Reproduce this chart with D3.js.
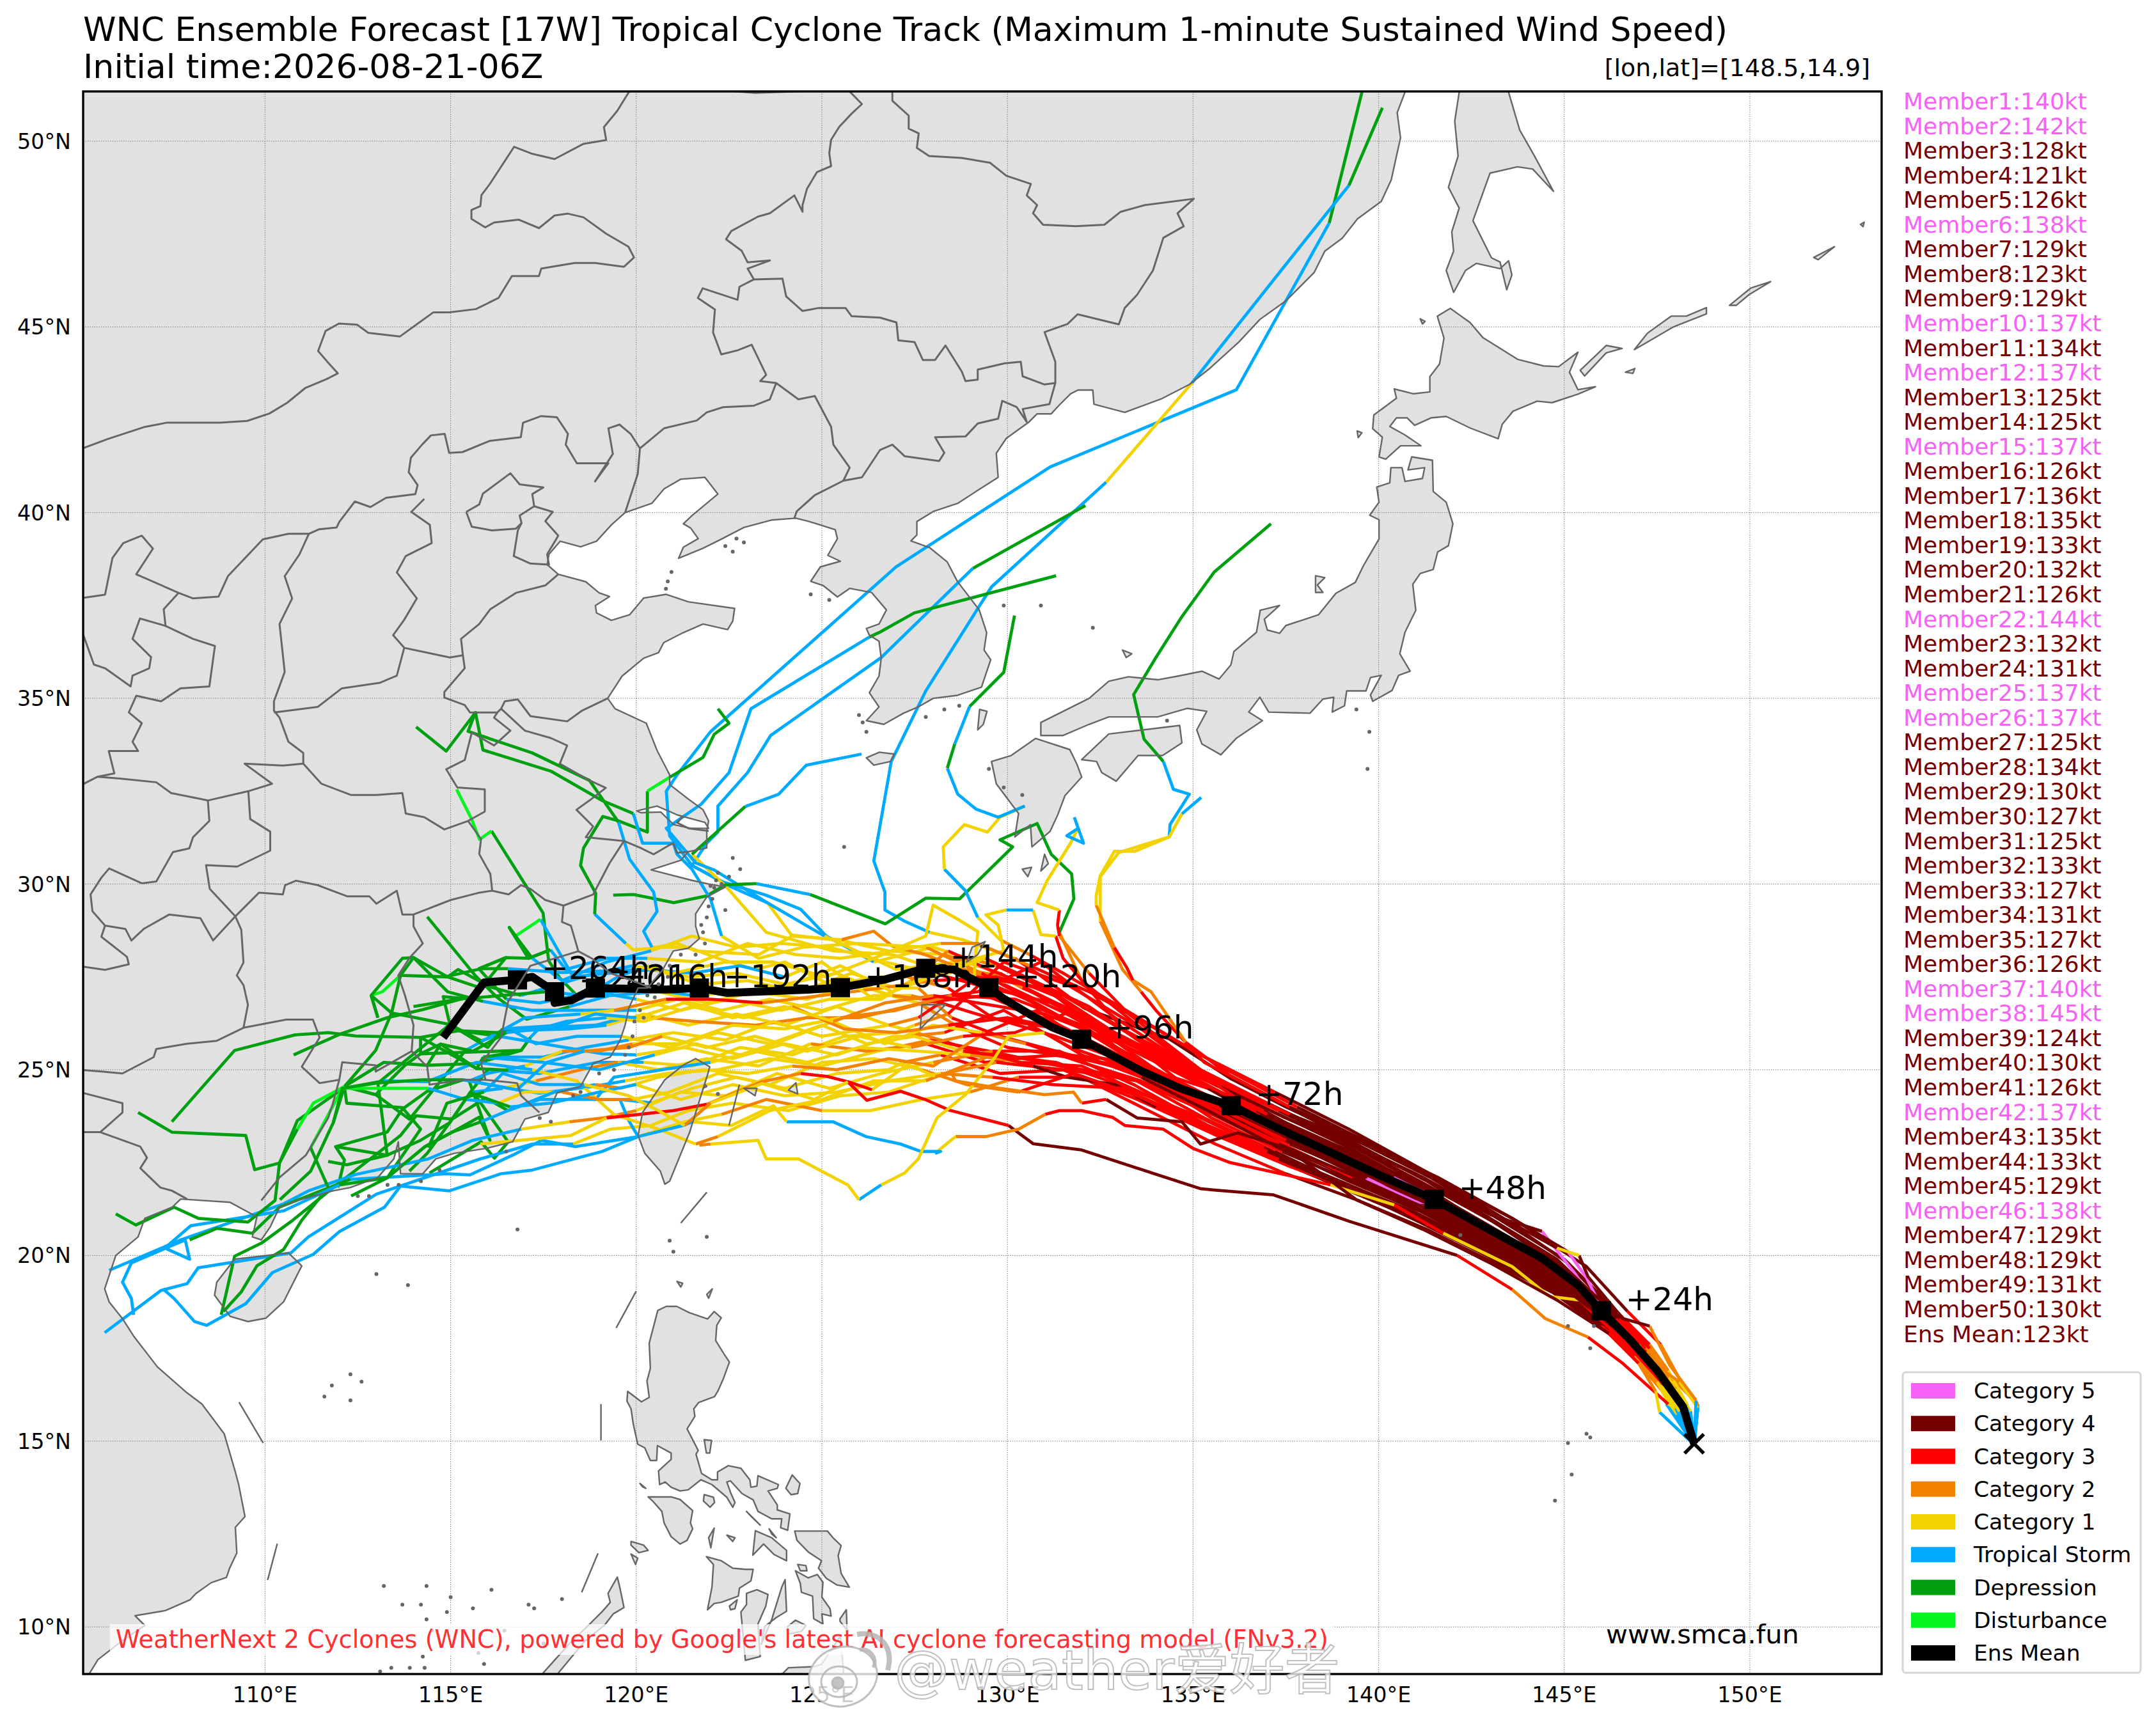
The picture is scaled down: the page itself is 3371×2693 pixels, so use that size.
<!DOCTYPE html>
<html>
<head>
<meta charset="utf-8">
<title>WNC Ensemble Forecast 17W</title>
<script src="https://cdn.jsdelivr.net/npm/d3@7"></script>
<style>
html, body { margin: 0; padding: 0; background: #fff; }
text { font-family: "DejaVu Sans", sans-serif; }
</style>
</head>
<body>
<svg id="chart" width="3371" height="2693"></svg>
<script>
// category order is the legend order
var catNames = ["Category 5", "Category 4", "Category 3", "Category 2", "Category 1", "Tropical Storm", "Depression", "Disturbance", "Ens Mean"];
var catColors = ["#f661f6", "#750000", "#ff0000", "#f28200", "#f2d200", "#00abff", "#00a010", "#05f51f", "#000000"];
var C5 = 0, C4 = 1, C3 = 2, C2 = 3, C1 = 4, TS = 5, TD = 6, DB = 7;

var memberWinds = [140, 142, 128, 121, 126, 138, 129, 123, 129, 137, 134, 137, 125, 125, 137, 126, 136, 135, 133, 132, 126, 144, 132, 131, 137, 137, 125, 134, 130, 127, 125, 133, 127, 131, 127, 126, 140, 145, 124, 130, 126, 137, 135, 133, 129, 138, 129, 129, 131, 130];
var meanWind = 123;
var latTicks = [10, 15, 20, 25, 30, 35, 40, 45, 50];
var lonTicks = [110, 115, 120, 125, 130, 135, 140, 145, 150];

// ensemble mean, lon/lat
var meanTrack = [[148.5, 14.93], [148.2, 15.93], [147.5, 16.9], [146.8, 17.7], [146, 18.51], [145.37, 19.2], [144.4, 19.93], [142.85, 20.77], [141.5, 21.51], [140, 22.17], [138.56, 22.84], [137.25, 23.44], [136.03, 24.03], [134.7, 24.48], [133.6, 24.97], [132, 25.82], [131.19, 26.15], [130.5, 26.55], [129.87, 26.93], [129.5, 27.21], [128.55, 27.7], [127.8, 27.73], [126.7, 27.43], [125.5, 27.21], [124.7, 27.16], [122.45, 27.07], [121.7, 27.2], [120.8, 27.16], [118.9, 27.2], [118.25, 26.87], [117.8, 26.8], [117.8, 27.1], [117.2, 27.5], [116.8, 27.42], [115.9, 27.35], [114.8, 25.87]];
var meanLabels = ["+24h", "+48h", "+72h", "+96h", "+120h", "+144h", "+168h", "+192h", "+216h", "+240h", "+264h"];
var meanMarkers = [[146, 18.51], [141.5, 21.51], [136.03, 24.03], [132, 25.82], [129.5, 27.21], [127.8, 27.73], [125.5, 27.21], [121.7, 27.2], [118.9, 27.2], [117.8, 27.1], [116.8, 27.42]];

// each track is a list of runs: [category, lon, lat, lon, lat, ...]; a run carries on from the end of the one before
var memberTracks = [
[[TS,148.5,14.9,148.1,16],[C1,147.6,16.9],[C2,147,17.6],[C3,146.2,18.3],[C4,144.7,19.8,142.8,20.9,141.2,21.8,139.5,22.7,137.8,23.4],[C3,136,24.4,134.3,25.2,132.8,25.9,131,26.9,129.8,27.6],[C2,128.3,28.1],[C1,126.8,28.2,125.57,28.47,124.18,28.63,123.54,29.49],[TS,122.5,29.95,121.5,30.5,120.9,31.3,120.81,32.5,121.1,32.94,122,34.1,127,38.54,131.15,41.23,136.17,43.31,138.67,47.8],[TD,139.55,51.32]],
[[TS,148.5,14.9,148.6,16],[C2,148,16.6,147.2,17.5],[C3,146.4,18.4],[C4,145,19.9,143.2,21,141.4,22.1,139.4,23.1,137.5,24,136,24.77,134.36,25.83,132.06,26.66],[C3,130.8,27.6,130.2,28],[C1,128.8,28.5,127.9,28.7],[TS,127.23,29,126.7,29.3,126.7,29.78,126.4,30.62,126.87,33.3,127.8,35.2,129.57,38,132.66,40.82],[C1,134.97,43.49],[TS,137.3,46.43,139.2,48.81],[TD,140.1,50.9]],
[[TS,148.5,14.9,148,16],[C1,147.5,16.8],[C2,147,17.4],[C3,146.1,18.3],[C4,144.6,19.7,142.7,20.8,141,21.9,139.2,22.9,137.1,23.9],[C3,135.1,24.9,133,25.9,131.2,27.1,129.7,27.8],[C2,128.6,28.1],[C1,128,28.3,126.4,27.9],[TS,125.12,28.6,124.43,29.32,123.5,29.7,122.35,30.05,121.5,30.5,121.9,31.1,122.2,31.4,122.2,32.1,123,33,123.62,34,126.6,36.1,129.07,38.5],[TD,132.1,40.19]],
[[TS,148.5,14.9,148.2,15.9],[C1,147.7,16.7],[C2,147.1,17.5],[C3,146.3,18.2],[C4,144.9,19.5,143,20.6,141.2,21.7,139.3,22.7,137.4,23.6],[C3,135.5,24.7,133.5,25.7,131.5,26.7,129.9,27.5],[C2,128.9,27.7],[C1,128.4,27.6,126.9,28.1,125.3,28.2,123.5,28.7,122.45,29.9,121.5,30.8],[TD,122.94,32.09],[TS,123.84,32.42,124.58,33.2,126.07,33.5]],
[[TS,148.5,14.9,148.3,15.8],[C1,147.9,16.5],[C2,147.3,17.2],[C3,146.5,18.1],[C4,145.2,19.3,143.3,20.5,141.6,21.5,139.7,22.5,137.6,23.3],[C3,135.7,24.4,133.7,25.5,132,26.5,130.4,27.2],[C2,129.3,27.8],[C1,128.6,27.9,127,27.7,125.07,28.6],[TS,123.49,29.52,122.1,30.38,121.6,30.57,120.81,31.5,121.75,32.15,122.5,33,123.09,34.72,126.28,36.65],[TD,126.54,36.77,127.49,37.3,131.31,38.3]],
[[TS,148.5,14.9,148.2,16],[C1,147.6,16.8],[C2,147,17.5],[C3,146.2,18.5],[C4,144.8,19.9,143,21,141,22.2,138.9,23.2,137,24.1],[C3,135,25.1,133.5,26.2,132,27.4],[C2,131.4,28.7],[TD,131.79,29.6,131.73,30.27,131.18,30.8,130.8,31.63,129.8,31.19,130.14,31,128.71,29.6,127.8,29.62,126.71,28.93,124.68,29.72],[TS,123.24,30.01],[TD,122.4,29.98,121.9,29.68,121.01,29.5,119.92,29.72,119.38,29.7]],
[[TS,148.5,14.9,148.3,16],[C1,147.8,16.9],[C2,147.3,17.6],[C3,146.5,18.4],[C4,145.1,19.8,143.2,21.1,141.2,22.3,139.2,23.4,137.2,24.4],[C3,135.2,25.4,133.2,26.6,131.5,27.6,130.6,28.1],[C2,129.8,28.5],[C1,129.2,29.1],[TS,128.87,29.82,128.3,30.4],[C1,128.27,31,128.84,31.6,129.46,31.4,129.8,31.8,130.47,32.1],[TS,129.75,31.8,129.15,32.02,128.66,32.42,128.38,33.12],[TD,128.58,33.77],[TS,128.98,34.78],[TD,129.9,35.7,130.19,37.23]],
[[TS,148.5,14.9,148.1,15.9],[C1,147.7,16.7],[C2,147.2,17.3],[C3,146.3,18.3],[C4,144.9,19.7,143.1,20.9,141.3,22,139.4,23,137.4,24.1],[C3,135.3,25.2,134,26.6,133.6,27.1],[C2,133.1,27.7,132.5,29],[C1,132.5,30.2,133,30.85,134.36,31.27],[TS,134.38,31.6,134.9,32.42,134.47,32.55,134.2,33.3],[TD,133.68,33.9,133.4,35.1,134,36.1,134.7,37.2,135.57,38.4,137.1,39.7]],
[[TS,148.5,14.9,148.6,15.95],[C2,148.2,16.5,147.6,17.6],[C3,146.7,18.5],[C4,145.6,19.7,143.6,21,141.6,22.1,139.5,23.1,137.6,24],[C3,135.99,24.85,134.8,25.74],[C2,133.87,27.1,133.38,27.41],[C3,133.21,27.76,132.88,28.29],[C2,132.39,29.43],[C1,132.39,29.69,132.5,30.22,132.88,30.88,133.43,30.88,134.36,31.27,134.7,31.89],[TS,135.22,32.33]],
[[TS,148.5,14.9,148.2,15.8],[C1,147.6,16.7],[C3,146.6,17.9],[C4,145.1,19.4,143,20.7,140.9,21.9,138.9,22.8,136.9,23.9],[C3,135.2,25,133.27,26.5,132.2,27.6],[C2,131.4,28.6],[C3,131.35,28.9,131.4,29.3],[C1,130.8,29.5,131.07,30.09,131.7,31.1,131.9,31.5],[TS,131.6,31.3,132.05,31.1,131.8,31.8]],
[[TS,148.5,14.9,148.3,15.9],[C1,147.8,16.7],[C2,147.2,17.4],[C3,146.4,18.1],[C4,145,19.5,143.1,20.6,141.3,21.6,139.4,22.5,137.5,23.5],[C3,135.6,24.4,133.6,25.4,131.6,26.5,129.9,27.3],[C2,127.78,28.1,126.9,28.33,126.4,28.73,125.53,28.5],[C1,124.2,28.6,123.3,28.1,121.6,28.2,121.11,28.4,120.37,28.27,119.92,28.23,119.72,28.4],[TS,118.88,29.19],[TD,118.91,29.75,118.5,30.5,118.58,30.97,119.1,31.82,119.52,31.7,120.3,31.4,120.3,32.5],[DB,120.91,32.88],[TD,121.8,33.41,122.1,34.03,122.5,34.33,122.2,34.72]],
[[TS,148.5,14.9,148.2,16],[C1,147.7,16.8],[C2,147.1,17.5],[C3,146.3,18.4],[C4,144.9,19.6,142.9,20.8,141,21.8,139,22.7,137,23.6,135.4,24.5],[C3,133.2,25.2,131.3,25.9,129.6,26.4,128.4,27.2],[C2,127.3,27.5],[C1,126.6,27.5,125.2,27.3,124,27.9,123.2,27.7,122.2,28,121.4,28.3,120.42,28.3],[TS,120.2,28.73,120.56,29.26,120.47,29.78,119.82,30.67,119.52,31.67],[TD,118.74,32.79,117.2,33.53,115.47,34.11,115.67,34.62,114.88,33.58,114.07,34.23]],
[[TS,148.5,14.9,148.1,15.9],[C1,147.5,16.9],[C2,146.9,17.5],[C3,146.1,18.3],[C4,144.7,19.5,142.9,20.6,141,21.6,139.1,22.5,137.2,23.3],[C3,135.3,24.3,133.3,25.4,131.3,26.5,129.3,27.6],[C2,127.8,28.3],[C1,126,28.4,124.5,28.3,123.3,28,122.3,28.6],[TS,122,29.6,121.5,30.4,121.1,30.8,121,31.1,120.17,31.1,119.92,31.9],[TD,119.08,32.25,117.7,33.04,115.87,33.61,115.67,34.62]],
[[TS,148.5,14.9,147.9,15.9],[C1,147.6,16.6],[C2,147.2,17.3],[C3,146.2,18.4],[C4,144.8,19.4,143,20.4,141.1,21.4,139.2,22.3,137.3,23.2],[C3,135.4,24.1,133.4,25,131.4,26.1,129.5,26.4,128.2,26.8],[C2,127.4,27],[C1,126.8,27,125.4,27.6,124,27.3,122.7,27.6,121.4,27.5,120.3,27.8],[TS,119.5,27.5,118.5,26.9],[TD,117.94,27.47,117.64,27.94,117.49,29.22,116.1,31.43],[DB,115.78,31.2,115.56,31.76,115.16,32.55]],
[[TS,148.5,14.9,148.2,15.9],[C1,147.6,16.7],[C2,147,17.4],[C3,146.3,18.2],[C4,145,19.3,143.2,20.3,141.4,21.3,139.5,22.2,137.6,23],[C3,135.7,23.9,133.7,24.9,131.7,25.4,129.8,25.9,128.5,26.4],[C2,127.6,27.2],[C1,127,27.2,125.8,27.6,124.4,27.1,123,27.4,121.7,27.3,120.5,27.7],[TS,119.3,27.6,118.3,27.5,117.42,29.05],[DB,116.75,28.6],[TD,116.58,28.83,117.1,28,117.69,28.23]],
[[TS,148.5,14.9,148.4,15.8],[C1,147.9,16.6],[C2,147.3,17.3],[C3,146.5,18],[C4,145.3,19.1,143.5,20.2,141.7,21.2,139.8,22.1,137.9,22.9],[C3,136,23.8,134,24.8,132,25.3,130,25.6,128.6,26.2],[C2,127.6,26.8],[C1,127.2,26.9,125.9,27.3,124.6,26.9,123.2,27.1,121.9,26.8,120.6,27.1],[TS,119.3,27,118.2,26.7],[TD,117.05,26.36,116.25,26.95,115.66,27.54,114.37,29.12]],
[[TS,148.5,14.9,148.1,15.7],[C1,147.6,16.6],[C2,147,17.2],[C3,146.2,18],[C4,144.8,19.2,143,20.2,141.2,21.2,139.3,22.1,137.4,23,135.5,24],[C3,133.5,25.6,131.5,26.9,129.5,27.7,128.4,28.2],[C2,127.4,27.4],[C1,126.6,26.9,125.2,26.9,123.9,26.6,122.5,26.9,121.2,26.6,120,26.9],[TS,118.9,27.1,117.4,26.8,116.5,26.9],[TD,115.76,27.72,116.49,28.02,115.82,27.2,114.92,27.5,113.65,27.54],[DB,113.16,27.1,112.86,27],[TD,113.04,26.4]],
[[TS,148.5,14.9,148.3,15.9],[C1,147.7,16.6],[C2,147.1,17.3],[C3,146.3,18.1],[C4,144.9,19.2,143.1,20.4,141.3,21.4,139.4,22.3,137.5,23.2],[C3,135.6,24.2,133.6,25.2,131.6,25.4,129.7,25.3,128.2,25.8],[C2,127.2,26.1],[C1,126.8,26.2,125.4,26.7,124,26.2,122.7,26.5,121.4,26.2,120.2,26.5,119.2,26.2],[TS,118.2,26.1,116.67,26.05,115.82,25.78],[TD,114.98,26.22,114.8,26.97,115.34,26.92,114.25,26.62,113.29,26.4,112.02,25.96,110.77,25.4]],
[[TS,148.5,14.9,148.2,15.7],[C1,147.6,16.5],[C2,147,17.2],[C3,146.1,18.1],[C4,144.7,19.3,142.8,20.5,141,21.5,139,22.4,137.1,23.3],[C3,135.2,24.2,133.2,25.3,131.2,26.3,129.4,27,127.7,26.8],[C2,126,26.4,124.6,26.4,123.2,26.2,121.6,26.3,120.4,26.4],[C1,119.7,26.4],[TS,118.9,26.2,117.4,26.13,117.15,25.87],[TD,116.9,25.52,115.7,25.17,114.37,25.12]],
[[TS,148.5,14.9,148,15.8],[C1,147.5,16.7],[C2,146.9,17.4],[C3,146,18.3],[C4,144.6,19.4,142.7,20.6,140.8,21.6,138.8,22.5,136.9,23.4],[C3,135,24.3,133,25.7,131,27.2,129.2,27.5,127.6,26.4],[C2,126.8,26.2],[C1,126.2,26.1,125,25.9,123.7,26.3,122.4,25.8,121,26,119.8,25.8],[TS,118.6,25.6,117.5,25.34,115.88,25.34],[TD,115.7,25.03,114.73,25.69,114.19,25.43,114.19,25.87,112.44,25.91,111.71,26,110.81,25.94,109.18,25.52,107.49,23.6]],
[[TS,148.5,14.9,148.3,15.7],[C1,147.8,16.4],[C2,147.2,17.1],[C3,146.4,17.9],[C4,145,19,143.2,20.1,141.4,21.1,139.5,22],[C3,137.6,22.9,135.7,23.8,133.7,24.9,131.7,25.6,129.9,26.6,128.3,26],[C2,127.3,25.9],[C1,126.9,25.9,125.4,25.4,124,25.7,122.6,25.3,121.3,25.6,120,25.4],[TS,119.08,25.43,117.5,25.7,116.3,25.9],[TD,115.22,26.05,114.98,26.22,113.04,24.64,113.29,22.7,112.2,22.44,111.7,22.53]],
[[TS,148.5,14.9,148.1,15.8],[C1,147.6,16.6],[C2,147,17.3],[C3,146.2,18.1],[C5,145.3,19.5,144.4,20.65],[C4,143,21.1,141.2,22.1,139.4,22.9,137.5,23.7,135.6,24.6],[C3,133.6,26.1,131.6,27.3,129.9,27.9,128.4,26.5],[C2,127.5,26.2],[C1,127,26,125.6,25.9,124.2,25.4,122.8,25.6,121.5,25.1,120.2,25.2],[TS,118.96,25.2,117.39,24.9,116,25],[TD,115.52,24.38,114.98,23.58,114.37,22.75,113.89,22.27]],
[[TS,148.5,14.9,148.2,15.7],[C1,147.7,16.5],[C2,147.1,17.2],[C3,146.2,18],[C4,144.7,19.1,142.8,20.1,141,21,139.1,21.9,137.2,22.8],[C3,135.3,23.7,133.3,24.8,131.4,25.1,129.5,25.5,127.9,25.8],[C2,127,25.6],[C1,126.5,25.5,125,25.1,123.6,25.3,122.2,25,120.8,24.9,119.7,24.7],[TS,118.84,24.55,117.39,24.37,116.79,24.46,115.34,24.73],[TD,114.37,24.42,113.7,23.94,113.29,23.32,111.9,22.93,112.14,22.57,111.96,21.83]],
[[TS,148.5,14.9,148.4,15.7],[C1,147.9,16.4],[C2,147.3,17.1],[C3,146.4,18],[C4,145,19.2,143.1,20.2,141.2,21.3,139.3,22.1,137.4,22.9],[C3,135.5,23.8,133.5,24.7,131.6,25,129.8,24.9,128.2,25.4],[C2,127.2,25.2],[C1,126.8,25,125.4,24.9,124,24.5,122.7,24.8,121.5,24.5,120.41,24.11],[TS,119.56,24.2,117.39,24.2,116.55,23.9],[TD,115.94,24.24,115.04,23.67,114.07,23.76,113.65,23.23,111.84,21.83,110.75,20.95,109.9,20.33,109.18,19.98,108.82,18.4]],
[[TS,148.5,14.9,148.1,15.9],[C1,147.5,16.7],[C2,146.9,17.5],[C3,146,18.4],[C4,144.6,19.6,142.6,20.9,140.7,21.9,138.7,22.9,136.8,23.8],[C3,134.9,25.1,132.9,26.4,130.9,27.9,129.2,27.1,127.7,26.9],[C2,126.9,27],[C1,126.4,27,125,26.6,123.6,26.9,122.3,26.6,121.1,26.9,120,26.6],[TS,118.8,26.6,117.2,26.6,115.88,26.84],[TD,114.92,27.1,114,28.02,113.65,27.54,113.41,26.53,112.98,25.52,112.14,24.55,111.84,23.58,111.23,22.27,110.4,21.5]],
[[TS,148.5,14.9,148.2,16],[C1,147.7,16.9],[C2,147.2,17.6],[C3,146.4,18.3],[C4,145,19.7,143.1,20.9,141.1,22,139.2,23,137.3,23.9],[C3,135.4,24.8,133.4,25.9,131.5,27,129.7,27.5,128,27.4],[C2,126.6,27.2,125,27,123.4,26.8],[C3,122,26.9,120.8,26.9],[C2,119.4,26.6],[C1,118.5,26.5],[TS,117,26.4,115.4,25.52],[TD,113.89,23.67,112.98,24.33,112.14,24.55,112.2,24.1,113.7,23.98,114.19,23.4,113.29,22.09]],
[[TS,148.5,14.9,148.3,15.8],[C1,147.8,16.7],[C2,147.2,17.4],[C3,146.4,18.2],[C4,145,19.3,143.2,20.5,141.4,21.4],[C5,141,21.45,139.65,22.06],[C4,137.7,23,135.8,23.9],[C3,133.9,25,132,26.2,130.2,26.9,128.5,27],[C2,127,26.6,125.5,26.4],[C1,124,26.1,122.6,26.2,121.2,25.7,119.9,25.7],[C2,119,25.5,118,25.5],[C1,117,25.1],[TS,116,24.9,115.5,24.7],[TD,116.06,23.1,115.76,23.72,115.04,23.32,114.31,22.93,113.29,22.09,112.32,21.6]],
[[TS,148.5,14.9,148,15.8],[C1,147.4,16.7],[C2,146.9,17.3],[C3,146.1,18.1],[C4,144.8,19.3,142.9,20.4,141,21.4,139,22.2,137.1,23.1],[C3,135.2,24,133.2,25.1,131.2,25.4,129.4,25.2,127.8,25.7],[C2,126.2,25.5,124.7,25.7],[C1,123.3,25.1,121.9,25.3,120.6,25,119.5,25.2],[C2,118.5,25,117.3,24.7],[C1,116.4,24.5],[TS,115.6,24.4],[TD,116.55,23.06,116.18,22.62,115.82,23.06,114.43,22.22]],
[[TS,148.5,14.9,148.3,15.8],[C1,147.7,16.5],[C2,147.1,17.2],[C3,146.2,18],[C4,144.8,19,142.9,20,141.1,21.1,139.2,21.9,137.3,22.7],[C3,135.4,23.5,133.4,24.6,131.4,25.5,129.6,25.5],[C2,128,25.2],[C1,126.6,24.9,125.2,24.5,123.8,24.9,122.4,24.3,121.2,24.4,120,23.9],[C2,119.1,23.7,118.2,23.6],[C1,116.9,23.4],[TS,115.6,23.1,114.4,22.6,112.44,22.18,111.17,21.74,110.5,21.39,107.73,20.42,105.8,19.6]],
[[TS,148.5,14.9,148.1,15.7],[C1,147.6,16.6],[C2,147,17.2],[C3,146.3,18],[C4,145,19,143.1,19.9,141.2,20.9,139.3,21.7,137.4,22.5],[C3,135.5,23.3,133.5,24.2,131.5,25,129.7,25.2],[C2,128.3,24.9],[C1,126.8,24.4,125.5,24.3,124.1,23.9,122.6,24.1,121.4,23.9,120.4,23.5],[C1,119.3,23.4,118.3,23],[TS,117.2,23,115.8,22.6,113,21.65,111.17,20.5,110.7,20.07,108.2,19.67,107.9,19.24,107.2,19.06,105.68,17.92]],
[[TS,148.5,14.9,148.2,15.7],[C1,147.7,16.4],[C2,147.1,17.1],[C3,146.2,17.9],[C4,144.9,18.9,143.1,19.8,141.3,20.7,139.4,21.5,137.5,22.2],[C3,135.6,23,133.6,24,132,24.8,130.3,24.8],[C2,129,24.4],[C1,127.7,24.2,126.3,23.9,125,23.9],[C2,123.5,24.2,122.3,23.8],[C1,121.3,23.6,120.05,23.2],[TS,118.36,22.93,117.45,23.1,116.67,22.7,115.52,22.17,114.9,22.2,112.3,22.05],[TD,110.39,21.3,109.66,20.6,108.7,20.73,107.97,20.42]],
[[TS,148.5,14.9,148.3,15.8],[C1,147.8,16.4],[C2,147.3,17],[C3,146.5,17.8],[C4,145.2,18.9,143.3,19.9,141.5,20.8,139.6,21.6,137.7,22.4],[C3,135.8,23.2,133.8,24.3,132,25.1,130.4,25.2],[C2,129,25.4],[C1,127.6,25.5,126,25.6,124.6,25.2,123.2,25.5,122,25.2],[TS,120.7,25,119.4,24.8,118.9,24.2,119.56,24.2,119.8,23.63,120.05,23.2]],
[[TS,148.5,14.9,148.2,15.9],[C1,147.7,16.7],[C2,147.2,17.4],[C3,146.3,18.2],[C4,144.9,19.6,142.9,20.8,141,22,139,23.1,137,24.1],[C3,135.1,25,133.1,26.1,131.5,28,131.3,28.6],[C1,130.9,28.64,130.69,29.3],[TS,129.97,29.3],[C1,129.42,29.17,129.75,28.9,129.9,28.2,128.8,27.9,127.6,27.4,126.4,26.9,125,27.9,124,27.5],[TS,122.8,27.8,121.5,27.6,120.2,27.7,118,27.62,116.55,27.72],[TD,115.82,27.72,114.85,27.5]],
[[TS,148.5,14.9,148.1,15.8],[C1,147.6,16.5],[C2,147,17.2],[C3,146.1,18],[C4,144.6,19.1,142.7,20.2,140.8,21.2,138.8,22,136.9,22.9],[C3,135,23.8,133,24.6,131.3,25.2,129.6,25.4],[C2,127.8,24.7],[C1,126.4,24.7,125,24.2,123.6,23.9,122.2,23.2],[C2,121.6,23],[C1,120.6,23.4,119.4,23.8,118.4,24.7,117.2,25],[TS,115.7,25.2,114.37,24.68,113.2,24.7],[TD,112.1,24.5,110.87,23.63,110.39,22.49,109.72,22.31,109.48,23.23,107.49,23.32,106.58,23.85]],
[[TS,148.5,14.9,148.4,15.8],[C1,148,16.4],[C2,147.4,17],[C3,146.5,17.9],[C4,145.2,19,143.3,19.9,141.4,20.9,139.5,21.7],[C3,137.6,22.4,135.7,23.2,134,24],[C4,132.9,24.6,131.6,24.8,130.69,25.1],[C3,129.6,25.4,128.8,25.5],[C1,127.5,25.9,126.2,25.7,125,26.2,123.6,25.7,122.2,26,120.9,25.6,119.6,25.9],[TS,118.4,25.9,117.3,25.7,116.67,26.05],[TD,116.3,26,115.22,26.05,114.19,25.87,115.7,25.03,116.55,24.99]],
[[TS,148.5,14.9,148.2,15.9],[C1,147.7,16.5],[C2,147.1,17.2],[C3,146.3,18],[C4,144.8,19.1,143,20.2,141.2,21.3],[C5,140.4,21.7,139.7,22.1],[C4,137.6,23.1,135.7,24],[C3,133.8,25,132,26.1,130.5,26.9,129.1,27.5],[C1,129.2,28.72,128.7,29.03,128,29.43,127.8,28.6,126.4,28,125.1,27.5,123.7,27.9,122.4,27.9,121,27.6,119.9,27.8],[TS,118.9,27.6,117.9,27.3,116.9,27],[TD,116.06,27.23,115.2,27.7,114.92,27.5,114,28.02,113.7,28,112.86,27]],
[[TS,148.5,14.9,148.6,15.9],[C1,148.1,16.6],[C2,147.1,17.3],[C3,146.2,18.2],[C5,145.6,19.4,145.1,20.1],[C4,143.6,21,141.7,22,139.8,23,137.8,24],[C3,135.9,25,134,26.1,132.2,27.1,130.6,27.8],[C2,129.2,28.4,128.2,28.4],[C1,126.9,28.2,125.5,28,124.3,28.1,123,28.4,121.7,27.9,120.3,28],[TS,119.2,28,118.1,27.7,117.69,28.23],[TD,117.1,28,116.49,28.02,115.76,27.72]],
[[TS,148.5,14.9,148.3,15.9],[C1,147.8,16.6],[C2,147.2,17.3],[C3,146.4,18.1],[C4,145,19.3,143.1,20.3,141.2,21.2,139.3,22.1],[C3,137.4,23,135.5,23.9,133.6,24.7,132,25.2,130.5,25.7],[C2,129.3,26],[C1,128,26.2,126.7,25.7,125.3,26.3,124,25.8,122.8,25.4,121.6,25.7,120.5,25.4],[TS,119,25,117.5,25.2,115.88,25.34],[TD,116.49,25.43,116.9,25.52,114.19,25.43,113.77,25.12,112.98,24.33,112.14,24.55]],
[[TS,148.5,14.9,148.2,15.7],[C1,147.6,16.4],[C2,147,17.1],[C3,146.1,18],[C4,144.7,19,142.9,20,141.1,20.9,139.2,21.8,137.3,22.6],[C3,135.4,23.4,133.5,24.3,131.8,24.9,130.3,24.4],[C2,128.9,24.6,127.7,25],[C1,126.4,25.3,125,25.2,123.6,24.6,122.2,24.9,120.9,24.4,119.9,24.2],[C2,119,24.2,118,24.4],[C1,117,24.4,116.3,24.1],[TS,115.4,24.2,114.4,24.5],[DB,112.08,24.5,111.23,22.9],[TD,111.7,21.83,110.99,20.95,110.5,20.16,109.78,19.72,109.36,19.02,108.88,18.49]],
[[TS,148.5,14.9,148.3,15.8],[C1,147.9,16.5],[C2,147.3,17.2],[C3,146.5,17.9],[C4,145.1,19,143.2,20,141.2,21.2,139.3,22,137.4,22.8],[C3,135.5,23.7,133.5,25,132,25.8,130.8,26.6,129.4,26],[C2,128,25.1,126.8,25.3,125.4,25,124.2,25.1],[C1,123,24.9,121.8,25,120.6,24.8,119.6,24.5],[C2,118.9,24.6],[TS,117.8,24.4,116.55,23.9,115.82,23.6],[TD,115.04,23.32,114.31,22.93,113.29,22.09,112,21.9],[TS,110.5,21.2,108,20.8,107.3,20.2,107.97,19.9,107.85,20.42,106.4,19.8,106.16,19.28,106.4,18.84,106.46,18.4]],
[[TS,148.5,14.9,148.2,15.9],[C1,147.7,16.6],[C2,147.1,17.3],[C3,146.2,18.2],[C4,144.8,19.3,143,20.4,141.2,21.3,139.2,22.2,137.3,23],[C3,135.4,24,133.5,25.1,131.5,26.1,130,26.4,128.4,26.2],[C2,127,26,125.6,26.1,124.2,26.7],[C1,122.9,26.4,121.5,26.7,120.2,26.3,119.2,26.4],[TS,118.1,26.3,117.4,26.1,116.5,26],[TD,115.6,25.5,114.73,25.69,114.37,25.12,113.2,25.2,112.14,24.55],[DB,111.3,24.1,110.87,23.4],[TD,110.39,22.49,110.27,21.48,109.54,20.9,108.2,21,107.55,21.3,106.52,20.82,105.98,21.12]],
[[TS,148.5,14.9,148,15.7],[C1,147.5,16.6],[C2,146.9,17.3],[C3,146,18.1],[C4,144.6,19.2,142.7,20.3,140.9,21.2,138.9,22,137,22.8],[C3,135.1,23.6,133.1,24.5,131.2,24.6,129.6,24.8],[C2,128.2,24.9],[C1,126.8,24.7,125.4,24.4,124,24.3,122.6,24.6,121.2,24.2,120,24.6],[TS,119,24.4,117.7,24.1,116.6,24],[TD,115.52,24.38,114.98,23.58,114.19,23.1,113.29,22.7,111.9,22.93]],
[[TS,148.5,14.9,148.3,15.8],[C1,147.8,16.6],[C2,147.2,17.2],[C3,146.3,18.1],[C4,145,19.2,143.1,20.3,141.3,21.4,139.4,22.3,137.5,23.1],[C3,135.6,24,133.6,25,131.8,26.6,130.2,26,128.8,25.9],[C2,127.4,25.6],[C1,126,25.9,124.6,25.5,123.2,25.9,121.9,25.6,120.7,25.9],[C2,119.8,25.6,118.6,25.5],[TS,117.6,25.2,116.79,24.46,115.34,24.73],[TD,114.25,24.73,113,24.64,112.08,24.5,111.84,23.58]],
[[TS,148.5,14.9,147.75,16],[C1,147.7,16.7],[C2,147.3,17.5],[C3,146.5,18.3],[C4,145.2,19.5,143.4,20.5,141.5,21.6],[C5,141,21.8,140.4,22.1],[C4,138.6,23,136.7,23.9],[C3,134.8,24.9,132.8,25.8,131,26.5,129.2,26.8,128,27],[C2,126.7,26.8,125.3,26.3],[C1,124,26.7,122.6,26.4,121.3,26.8,120,26.4],[TS,118.9,26.5,118,26.2,116.4,26.1],[TD,116,25.6,114.98,26.22,113.41,26.53,112.86,27,113.04,26.4]],
[[TS,148.5,14.9,148.1,15.9],[C1,147.6,16.8],[C2,147,17.6],[C3,146.1,18.5],[C4,144.7,19.8,142.8,20.9,140.9,22,139,22.9,137,23.8],[C3,135.1,24.7,133.1,25.8,131.2,26.8,129.5,27.2,128,27.6],[C1,126.7,27.9,125.2,28.3,123.9,28.4,122.7,28.3,121.5,28.6,120.4,28.2],[TS,119.2,27.9,118,27.4,117.2,28],[TD,116.75,28.6,116.58,28.83,117.1,28]],
[[TS,148.5,14.9,148.55,16.1],[C2,147.84,17.05,147.3,18.1],[C4,146.58,18.3,145.64,19.43,145.4,20],[C1,144.8,20.2],[C4,143,21.2,141.4,22.1,139.6,23,137.6,23.8],[C3,135.7,24.7,133.8,25.6,132.2,26.7,130.7,27.4,129.4,28],[C1,128.2,27.6,126.9,27.1,125.5,27.8,124.2,27.3,122.8,27.1,121.5,27],[TS,120.2,27.2,118.6,27,117.6,27.1],[TD,115.2,26.9,114,26.7]],
[[TS,148.5,14.9,148,15.9],[C1,147.8,16],[C3,146.57,17.1,145.64,17.8],[C2,144.49,18.3,143.6,19.08],[C3,142.12,20],[C4,139.21,20.92,137.17,21.63,135.58,21.76,135.19,21.8,133.9,22.22,132,22.84,130.69,23.01,130.03,23.5],[C3,128.44,23.91,127.78,24.2,127.12,24.42,126.21,24.18,125.69,24.68,125.14,24.82,124.43,24.9],[C2,123.39,24.68,121.9,24.07],[C3,121,23.9,119.2,23.7],[C1,118.24,23.23,115.8,23]],
[[TS,148.5,14.9,148.1,15.8],[C1,147.7,16.5],[C3,146.7,17.6,145.4,18.8],[C1,144.6,18.9,143.6,19.7,141.74,20.6],[C3,140.42,21.36],[C1,138.7,21.9],[C3,137.37,22.2,136,22.5,135,22.88,134.2,23.4,133.16,23.5,132.83,23.72,132,23.9,131.4,23.9,131.02,23.8],[C2,130.3,23.4,129.42,23.2,128.6,23.2],[C1,128.05,22.75],[TS,128.2,22.8,127.67,22.8,127.12,23,126.19,23.2,125.3,23.6,124.05,23.6],[C1,123.7,24.03,122.56,23.5,121.52,23.6],[TS,121.26,23.5,120.05,23.2,119.08,22.8,117.2,22.3,116.36,22.2,114.97,21.74,113.65,21.87,113.22,21.3,112,20.64,111.3,20.03,110.2,19.54,109.48,18.7,108.43,18.12,108.1,18.22,107.55,18.84,107.25,19.1]],
[[TS,148.5,14.9,148.3,15.9],[C1,147.8,16.6],[C2,147.2,17.3],[C3,146.3,18.1],[C4,144.9,19.2,143,20.2,141.1,21.2,139.2,22,137.3,22.9],[C4,135.4,23.9,133.6,24.8],[C3,132,25.4,131,26],[C1,130.03,25.9,129.64,25.3,128.87,24.33,128.1,23.7,127.6,22.6,127.23,22.22,126.6,21.9],[TS,126,21.5],[C1,125.7,21.9,124.37,22.6,123.5,22.6,123.28,23.1,122,23],[C2,121.7,22.97]],
[[TS,148.5,14.9,147.57,15.78],[C1,147.46,16.35],[C2,147,17.1],[C3,146.2,17.9],[C4,144.8,18.8,143,19.8,141.2,20.7,139.4,21.5,137.5,22.9,136.2,23.3,135.2,23,134.7,23.6,133.5,23.7,132.66,24.2],[C3,132,24.1],[C2,131.78,24.4,131,24.33,129.8,24.5,128.6,24.7,128.5,24.9,128.05,24.82],[C1,127.32,25.14,126.35,24.46],[C3,125.7,24.68],[C1,124.8,24.2,123.39,24.63,122,24.1],[C2,121.3,23.5],[C1,120.6,23.9,119.8,24.3,118.6,24.6],[TS,117.4,24.6,116.4,24.9,115.9,24.4],[TD,114.9,24.1,114.4,22.9]]
];

// map outlines, hand, lon/lat pairs
var mainland = [[140.71,51.32],[140.5,50.77],[140.59,50.09],[140.48,49.6],[140.34,48.96],[140.07,48.38],[139.43,47.91],[139.02,47.39],[138.55,47.04],[138.26,46.46],[137.5,45.7],[136.8,45.2],[136.23,44.59],[135.46,43.89],[134.9,43.45],[134.14,43.06],[133.16,42.7],[132.33,42.92],[132.3,43.3],[131.9,43.3],[131.7,43.2],[131.4,42.9],[131.18,42.66],[130.8,42.66],[130.58,42.44],[129.97,42],[129.7,41.6],[129.75,40.95],[129.2,40.6],[128.66,40.25],[128,40.03],[127.56,39.76],[127.56,39.4],[127.4,39.24],[127.9,39.06],[128.38,38.67],[128.65,38.15],[129.24,37.38],[129.44,36.77],[129.37,36.3],[129.55,36.04],[129.3,35.3],[128.65,35.08],[128,35],[127.6,34.77],[127.2,34.6],[126.67,34.3],[126.2,34.4],[126.54,34.77],[126.28,35.15],[126.54,35.6],[126.6,36.08],[126.54,36.54],[126.28,36.7],[126.2,36.88],[126.54,37],[126.74,37.38],[126.34,37.85],[125.75,37.96],[125.42,37.73],[125.03,38.04],[124.7,38.15],[124.96,38.54],[125.5,38.69],[125.16,38.85],[125.42,39.3],[125.36,39.54],[124.63,39.77],[124.3,39.85],[123.64,39.8],[122.9,39.6],[122.26,39.27],[121.8,39.04],[121.14,38.77],[121.27,39.07],[121.67,39.3],[121.47,39.58],[121.27,39.7],[121.5,39.92],[122.2,40.5],[121.85,40.95],[121.2,40.9],[120.75,40.64],[120.42,40.25],[119.7,40],[119.33,39.67],[118.93,39.23],[118.5,39.08],[117.95,39.23],[117.65,38.88],[117.6,38.6],[117.9,38.34],[118.64,38.14],[119,37.84],[119.28,37.74],[118.9,37.5],[118.93,37.3],[119.33,37.1],[119.82,37.25],[120.2,37.7],[120.8,37.8],[121.4,37.6],[122.65,37.42],[122.6,37.08],[122.46,36.85],[121.8,37],[121.27,36.77],[120.74,36.5],[120.6,36.23],[120.2,36.08],[119.62,35.6],[119.23,35],[119.43,34.72],[120.27,34.33],[120.56,33.6],[120.9,32.94],[120.9,32.68],[121.4,32.29],[121.8,32],[121.95,31.7],[121.9,31.43],[121.9,30.97],[121.4,30.87],[121.2,30.64],[120.4,30.38],[121.5,30.1],[121.95,30],[122.4,29.92],[121.9,29.65],[121.6,29.2],[121.6,28.86],[121.7,28.53],[121.4,28.27],[121,28.2],[120.7,27.67],[120.3,27.2],[120.05,27.2],[119.8,26.66],[119.7,26.2],[119.56,25.78],[119.3,25.34],[118.84,25.17],[118.5,24.55],[117.87,24.38],[117.63,23.85],[117,23.67],[116.67,23.06],[115.94,22.88],[115.1,22.75],[114.6,22.6],[114.25,22.2],[113.65,22.2],[113.59,23.06],[113.47,22.6],[113.04,22.1],[112.3,21.83],[111.83,21.74],[110.87,21.48],[110.39,21.3],[110.14,20.77],[109.9,20.42],[109.66,20.5],[109.78,21.04],[109.06,21.43],[107.73,21.52],[107.5,21.3],[106.76,21],[106.58,20.5],[105.98,20],[105.68,19.1],[105.8,18.75],[106.16,18.3],[106.46,17.83],[107.1,17],[107.9,16.3],[108.3,16],[108.9,15.2],[109.2,14.17],[109.29,13.83],[109.46,12.97],[109.2,12.68],[109.24,11.99],[109.05,11.59],[108.96,11.33],[108.55,11.19],[108.14,10.9],[107.98,10.73],[107.32,10.44],[106.5,10.3],[106.76,10.04],[106.17,9.64],[105.5,9.12],[105.18,8.6],[104.9,8.6],[104.9,51.5],[140.71,51.5]];
var islands = [
[[142.17,51.5],[142.17,51.32],[142.05,50.54],[142.14,49.6],[141.88,48.76],[142.17,48.2],[141.97,47.56],[142.02,47.04],[141.82,46.52],[142.02,45.93],[142.34,46.52],[142.63,46.71],[143.27,46.57],[143.5,46.78],[143.59,46.4],[143.45,46],[143.27,46.75],[143.04,46.86],[142.54,47.86],[143,49.14],[143.74,49.31],[144.15,49.25],[144.71,48.65],[144.2,49.6],[143.8,50.3],[143.5,51.32],[143.5,51.5]],
[[141.93,45.5],[141.58,45.29],[141.76,44.7],[141.64,44],[141.38,43.66],[141.38,43.25],[140.94,43.2],[140.42,43.33],[140.48,43.08],[139.87,42.63],[139.84,42.26],[140.1,42.03],[140.01,41.5],[140.19,41.44],[140.59,41.8],[141.14,41.8],[140.71,42.09],[140.3,42.32],[140.48,42.55],[140.77,42.55],[140.97,42.35],[141.41,42.55],[141.82,42.59],[142.46,42.28],[143.22,41.99],[143.33,42.38],[143.62,42.73],[144.27,43],[144.67,42.96],[145.37,43.19],[145.84,43.39],[145.37,43.31],[145.14,43.78],[145.37,44.32],[144.85,43.93],[144.44,43.95],[143.74,44.13],[142.81,44.71],[142.46,45.12]],
[[141.45,41.41],[140.89,41.5],[140.79,41.15],[141.24,41.21],[141.18,40.92],[140.71,40.84],[140.63,41.21],[140.33,41.21],[140.3,40.8],[139.95,40.69],[140.01,40.28],[139.76,39.93],[140.01,39.81],[140.01,39.29],[139.6,38.59],[139.37,38.12],[138.85,37.83],[138.38,37.25],[137.5,36.96],[137.33,36.75],[137,36.84],[136.92,37.13],[137.33,37.5],[136.81,37.37],[136.71,36.78],[136.1,36.26],[136.02,35.9],[135.7,35.52],[135.24,35.73],[134.6,35.6],[134.05,35.5],[133.26,35.58],[132.73,35.46],[132.2,35],[131.4,34.6],[130.9,34.35],[130.9,34],[131.5,34],[132.2,34.3],[132.73,34.5],[134.05,34.5],[134.84,34.73],[135.37,34.65],[135.1,34.15],[135.24,33.77],[135.75,33.48],[136.16,33.92],[136.87,34.4],[136.5,34.63],[136.8,35.03],[137.04,34.63],[138.15,34.6],[138.5,34.98],[138.79,35.03],[138.75,34.63],[139.08,34.8],[139.14,35.2],[139.66,35.2],[139.78,35.56],[140.07,35.62],[139.78,35.09],[139.84,34.92],[140.36,35.21],[140.54,35.62],[140.85,35.73],[140.57,36.2],[140.71,36.78],[141,37.37],[140.92,38.07],[141.12,38.36],[141.47,38.47],[141.59,38.94],[141.88,39.11],[142,39.7],[141.82,40.28],[141.47,40.57]],
[[130.76,33.92],[131.68,33.62],[131.87,33.23],[132,32.88],[131.55,32.38],[131.35,31.85],[131.15,31.42],[130.66,31],[130.62,31.6],[130.2,31.27],[130.3,31.9],[130,32.3],[129.7,32.7],[129.57,33.3],[130.1,33.46]],
[[132,33.35],[132.73,34.04],[133.65,34.15],[134.64,34.27],[134.7,33.8],[134.18,33.46],[133.52,33.46],[132.93,32.77],[132.54,33],[132.4,33.3]],
[[126.2,33.4],[126.55,33.55],[126.95,33.5],[126.85,33.3],[126.4,33.2]],
[[129.25,34.7],[129.45,34.65],[129.35,34.3],[129.2,34.15]],
[[138.3,38.3],[138.55,38.25],[138.35,38.05],[138.5,37.85],[138.3,37.85]],
[[133.1,36.3],[133.35,36.2],[133.2,36.1]],
[[141.12,45.22],[141.25,45.15],[141.18,45.08]],[[139.42,42.2],[139.55,42.15],[139.45,42.02]],
[[145.43,43.83],[146.13,44.5],[146.56,44.42],[146.13,44.3],[145.55,43.68]],[[146.89,44.39],[147.24,44.83],[147.88,45.29],[148.29,45.29],[148.83,45.52],[148.83,45.35],[147.94,45],[147.24,44.59]],[[149.45,45.58],[150.03,46.05],[150.56,46.22],[149.98,45.87],[149.63,45.58]],[[151.72,46.87],[152.28,47.16],[151.84,46.81]],[[152.98,47.76],[153.08,47.82],[153.05,47.7]],[[146.65,43.78],[146.9,43.88],[146.85,43.75]],
[[121.6,25.3],[121.98,25.08],[121.92,24.86],[121.74,24.29],[121.44,23.32],[120.9,22],[120.77,21.92],[120.65,22.27],[120.23,22.75],[120.05,23.23],[120.17,23.85],[120.77,24.73],[121.26,25.12]],
[[108.7,19.28],[109.18,19.9],[110.63,20.07],[110.99,19.72],[110.5,18.75],[110.02,18.31],[109.54,18.22],[109.06,18.36],[108.64,18.93]],
[[120.58,18.52],[120.81,18.63],[121.09,18.63],[121.43,18.46],[121.92,18.29],[122.1,18.49],[122.29,18.32],[122.17,18.12],[122.14,17.71],[122.35,17.37],[122.51,17.13],[122.35,16.69],[122.2,16.35],[122.11,16.2],[121.68,16.04],[121.55,15.87],[121.58,15.67],[121.37,15.33],[121.67,14.75],[121.61,14.65],[121.76,14.13],[122.04,13.96],[122.19,13.96],[122.19,14.17],[122.48,14.34],[122.82,14.27],[123.06,13.96],[123.09,13.76],[123.25,13.79],[123.28,14.07],[123.83,13.83],[123.8,13.73],[123.55,13.66],[123.8,13.28],[123.8,13.15],[124.14,13.04],[124.08,12.6],[123.89,12.67],[123.92,12.91],[123.65,12.91],[123.28,13.11],[123.15,13.42],[122.85,13.59],[122.54,13.93],[122.44,13.9],[122.54,13.62],[122.66,13.35],[122.6,13.22],[122.44,13.49],[122.04,13.83],[121.74,13.96],[121.4,13.69],[121.18,13.66],[120.94,13.76],[120.78,13.9],[120.63,13.83],[120.6,14.2],[120.94,14.51],[120.94,14.68],[120.57,14.88],[120.55,14.48],[120.38,14.48],[120.23,14.82],[120.04,14.92],[119.92,15.46],[119.86,15.87],[119.75,16.08],[119.77,16.34],[120.14,16.06],[120.35,16.18],[120.29,16.62],[120.38,16.96],[120.35,17.64]],
[[120.32,13.5],[120.94,13.5],[121.18,13.43],[121.52,13.13],[121.46,12.8],[121.52,12.64],[121.37,12.33],[121.18,12.23],[120.94,12.43],[120.75,12.8],[120.69,13.11],[120.44,13.39]],
[[121.83,13.56],[122.08,13.49],[122.11,13.35],[121.99,13.22],[121.81,13.39]],
[[124.2,14.09],[124.41,13.86],[124.35,13.59],[124.17,13.56],[124.03,13.73]],
[[121.83,15.04],[122.03,15.02],[121.98,14.68],[121.89,14.68]],
[[124.27,12.58],[125.15,12.58],[125.3,12.4],[125.52,12.19],[125.44,11.92],[125.52,11.44],[125.74,11.07],[125.4,11.13],[125.12,11.31],[124.91,11.58],[124.99,11.78],[124.63,12.02],[124.33,12.33]],
[[123.21,12.59],[123.65,12.4],[124.05,12.06],[124.05,11.78],[123.71,11.95],[123.43,12.23],[123.14,11.93]],
[[121.89,11.89],[122.29,11.78],[122.6,11.58],[122.94,11.55],[123.15,11.55],[123.09,11.24],[122.78,11.04],[122.75,10.83],[122.29,10.66],[122.1,10.63],[121.92,10.46],[122.04,11.07],[122.08,11.68]],
[[122.97,10.9],[123.25,11],[123.55,10.87],[123.49,10.56],[123.28,10.08],[123.34,9.2],[122.94,9.1],[122.82,10.4],[122.97,10.6]],
[[124.01,11.27],[124.05,10.42],[123.77,10.25],[123.46,10.01],[123.37,9.53],[123.65,10.2],[123.92,11.07]],
[[124.29,11.51],[124.63,11.32],[124.88,11.41],[125.03,11.2],[125,10.8],[125.22,10.49],[125.25,10.29],[125,10.35],[125.03,10.08],[124.78,10.22],[124.75,10.83],[124.45,10.93],[124.42,11.17]],
[[119.49,11.34],[119.55,11.1],[119.67,10.52],[119.38,10.35],[119.15,10.05],[118.6,9.6],[117.77,8.6],[117.35,8.6],[118.2,9.55],[118.72,10.05],[119.09,10.42],[119.3,10.66],[119.24,10.9]],
[[119.86,12.3],[120.2,12.2],[120.32,12.06],[120.07,12],[119.86,12.2]],[[119.86,11.96],[120.04,11.85],[119.98,11.68]],[[120.1,13.86],[120.26,13.73],[120.17,13.77]],[[121.95,12.4],[122.1,12.66],[122.01,12.13]],[[122.44,12.47],[122.66,12.4],[122.6,12.3]],[[122.97,13.11],[123.34,12.74],[123.09,12.98]],[[123.58,12.64],[123.77,12.4],[123.65,12.5]],[[122.51,10.56],[122.72,10.73],[122.66,10.49],[122.54,10.46]],[[124.08,10.01],[124.29,10.18],[124.57,10.04],[124.45,9.88],[124.08,9.8]],[[124.35,11.68],[124.57,11.65],[124.6,11.51],[124.42,11.51]],[[125.49,10.22],[125.66,10.46],[125.68,9.91],[125.49,10.15]],
[[121.1,19.3],[121.25,19.25],[121.2,19.15]],[[121.9,18.95],[122.05,19.1],[121.95,18.85]],
[[123.8,8.6],[124.1,8.9],[124.8,8.93],[125,9],[125.5,9.75],[125.6,8.6]],
[[121.86,24.6],[121.9,24.55],[121.8,24.5]],
[[127.7,26.75],[128.2,26.75],[128.33,26.75],[127.85,26.3],[127.65,26.1]],[[128.9,27.9],[129.05,28.3],[129.4,28.45],[129.2,28.1]],[[130.4,30.4],[130.65,30.45],[130.55,30.2]],[[131,30.8],[131.1,30.55],[130.9,30.35]],
[[122.9,24.5],[123.25,24.5],[123.2,24.3]],[[124.1,24.45],[124.3,24.65],[124.35,24.35]]
];
// inland water of the Yangtze mouth, drawn back in white
var waterPatches = [[[120.02,31.97],[120.56,32.1],[121.11,31.86],[121.85,31.66],[121.95,31.5],[121.46,31.5],[121.01,31.6],[120.66,31.94],[120.12,31.92]]];
var borders = [
[[105,41.7],[105.76,41.98],[106.73,42.3],[107.34,42.42],[108.79,42.42],[109.52,42.47],[110.12,42.67],[110.6,42.96],[111.09,43.36],[111.69,43.61],[111.96,43.75],[111.69,44.05],[111.43,44.35],[111.63,44.89],[111.99,45.09],[112.48,45.06],[112.78,44.84],[113.63,44.74],[114.53,45.39],[114.96,45.39],[115.68,45.48],[116.29,45.78],[116.65,46.37],[117.38,46.37],[117.44,46.57],[118.34,46.72],[118.89,46.72],[119.67,46.62],[119.94,46.87],[119.79,47.16],[119.19,47.51],[118.58,47.95],[118.16,48.05],[117.8,48],[117.38,47.66],[116.83,47.89],[116.17,47.81],[115.93,47.68],[115.56,47.91],[115.56,48.15],[115.8,48.25],[115.83,48.55],[116.05,48.84],[116.71,49.85],[117.2,49.66],[117.8,49.52],[118.58,49.93],[119.19,50.03],[119.13,50.38],[119.49,50.82],[119.85,51.4]],
[[120.4,51.4],[121.5,51.38],[122.6,51.35],[123.2,51.3],[124.8,51.36],[125.69,51.4],[126.08,51],[125.8,50.74],[125.47,50.39],[125.25,50.04],[125.2,49.68],[125.25,49.33],[124.87,49.17],[124.6,48.72],[124.48,48.28],[124.48,48.1],[124.26,48.54],[123.6,48.06],[123.28,47.97],[122.56,47.58],[122.42,47.36],[122.84,47.05],[123,46.74],[123.6,46.79],[123,46.57],[123.17,46.28],[123.94,46.3],[124.04,45.82],[124.48,45.43],[124.92,45.51],[125.64,45.51],[125.8,45.29],[126.57,45.25],[127.01,45.12],[127.06,44.64],[127.5,44.59],[127.72,44.11],[128.05,44.11],[128.33,44.5],[128.77,43.8],[128.87,43.54],[129.2,43.58],[129.2,43.85],[129.92,44.02],[130.36,44.06],[130.41,43.67],[131,43.45],[131.29,43.49]],
[[126.9,51.4],[126.9,51.09],[127.34,50.69],[127.34,50.34],[127.61,50.21],[127.56,49.82],[127.89,49.6],[128.77,49.55],[129.53,49.42],[129.97,49.07],[130.63,48.85],[130.52,48.54],[130.8,48.28],[130.69,48.06],[130.96,47.75],[131.84,47.71],[132.61,47.75],[133.05,48.1],[133.7,48.28],[135.02,48.45],[134.58,48.06],[134.75,47.71],[134.2,47.4],[133.92,46.52],[133.49,45.86],[133.16,45.51],[133,45.07],[131.89,45.34],[131.62,45.08],[131,44.86],[131.29,44.06],[131.29,43.49],[131.13,42.92],[130.41,42.79],[130.52,42.44],[130.25,42.84],[129.86,43.01],[129.75,42.53],[129.2,42.4],[128.87,42.05],[128.05,42.03],[128.3,41.61],[128.16,41.39],[127.23,41.52],[126.9,41.83],[126.57,41.69],[126.08,40.95],[125.58,40.86],[124.81,40.47],[124.32,40.03],[124.26,39.85]],
[[123.17,46.28],[122.78,46.08],[122.73,45.73],[122.34,45.86],[121.79,46.04],[121.66,45.78],[122.12,45.47],[122.07,44.85],[122.29,44.26],[122.73,44.37],[123.11,44.52],[123.5,43.71],[123.34,43.54],[123.77,43.49],[124.37,43.05],[124.81,43.14],[125.25,42.31],[125.31,41.83],[125.75,41.21],[125.58,40.86]],
[[123.77,43.49],[123.6,43.05],[123.17,42.88],[122.34,42.84],[121.9,42.7],[121.63,42.48],[120.75,42.27],[120.1,41.73],[119.85,42.12],[119.55,42.37],[119.25,42.27],[119.37,41.58],[118.89,40.84],[119.25,41.33],[118.4,41.33],[118.1,41.83],[118.16,42.12],[117.86,42.57],[117.44,42.6],[116.95,42.42],[116.89,42.03],[116.05,41.93],[115.32,41.63],[114.96,41.61],[114.84,42.12],[114.47,42.08],[114.23,41.83],[113.93,41.48],[113.87,41.09],[114.11,40.74],[114.05,40.5],[113.26,40.4],[112.84,40.15],[112.42,40.3],[112,39.75],[111.93,39.6],[111.45,39.55],[111.18,39.43]],
[[120.1,41.73],[120.04,41.04],[119.7,40]],
[[105,37.69],[105.69,37.79],[105.89,38.78],[106.18,39.18],[106.68,39.38],[106.98,39.03],[106.53,38.34],[107.67,37.84],[108.06,37.69],[108.75,37.74],[109,38.29],[109.94,39.28],[110.63,39.43],[111.18,39.43],[110.93,38.88],[110.53,38.29],[110.73,37.69],[110.39,37],[110.53,35.71],[110.24,34.92],[110.24,34.67],[110.39,34.48],[110.63,33.83],[111.03,33.53],[111.03,33.24]],
[[107.67,37.84],[107.27,37.4],[107.32,36.95],[106.63,37.15],[106.43,36.6],[106.93,36.11],[106.88,35.81],[106.43,35.61],[106.38,35.32],[105.69,35.81],[105.39,35.91],[105,37]],
[[107.32,36.95],[108.06,36.6],[108.65,36.41],[108.5,35.32],[107.72,35.27],[107.2,34.92],[106.53,35.07],[106.33,34.62],[106.68,34.33],[106.43,33.83],[106.58,33.58],[105.79,33.58],[105.94,32.98],[105.49,32.89],[105,32.64]],
[[114.29,40.37],[113.94,40.02],[114.44,39.67],[114.49,39.18],[113.79,38.83],[113.55,38.39],[114.09,37.69],[113.74,37.1],[113.45,36.7],[113.75,36.36],[113.55,35.61],[113.1,35.42],[112.07,35.27],[111.42,34.77],[110.24,34.62]],
[[113.75,36.36],[114.98,36.1],[115.33,36.16],[115.28,36.6],[115.77,37],[116.07,37.4],[116.76,37.84],[117.55,38.04],[117.9,38.34]],
[[115.33,36.16],[115.38,35.81],[114.83,35.17],[114.83,35.02],[115.38,34.82],[115.52,34.62],[116.26,34.62],[116.36,34.72],[116.46,34.92],[116.81,34.97],[117.15,34.52],[118.14,34.38],[118.54,34.67],[119.23,35]],
[[116.26,34.62],[116.17,34.48],[116.61,34.13],[116.17,33.73],[115.57,34.08],[115.38,33.34],[114.88,33.09],[115.18,32.6],[115.92,32.55],[115.92,31.95],[115.47,31.7],[114.83,31.47],[114.29,31.8],[113.79,31.9],[113.7,32.45],[113,32.4],[112.31,32.4],[111.52,32.7],[111.03,33.24],[110.48,33.19],[109.45,33.24],[110.19,32.7],[109.55,32.5],[109.6,31.75],[110.14,31.41],[110.14,30.9],[109.25,30.47],[108.41,30.51],[108.51,29.87],[109.2,29.13],[109.84,29.77],[110.48,29.72],[110.54,29.97],[110.83,30.09],[111.42,29.97],[112.21,29.67],[112.81,29.67],[113,29.47],[113.55,29.82],[113.7,29.18],[114,29.18],[115,29.57],[115.78,29.77],[116.12,29.82]],
[[116.36,34.72],[117,34.13],[117.7,33.93],[118.14,33.73],[117.94,33.24],[118.74,32.79],[119.18,32.59],[118.74,32.25],[118.39,32],[118.84,31.55],[118.64,31.26],[119.67,31.16],[120.12,30.97],[120.47,30.8],[120.86,31.03],[121,31.1],[121.1,30.84],[121.4,30.87]],
[[115.47,31.7],[115.82,31.21],[115.77,30.81],[116.07,30.27],[116.12,29.82],[116.56,29.72],[116.9,29.97],[117.15,29.87],[117.55,29.57],[118.04,29.42],[118.84,29.72],[119.28,30.56],[119.67,31.16]],
[[118.04,29.42],[118,28.98],[118.24,28.88],[118.44,28.19],[118.8,28],[119.3,27.6],[119.9,27.4],[120.4,27.2]],
[[118.44,28.19],[117.15,27.8],[116.55,26.84],[116.36,25.87],[115.82,25.17],[115.94,24.73],[116.79,24.64],[116.9,24.3],[117.39,23.85]],
[[115.94,24.73],[115.34,24.73],[114.43,24.6],[114.37,25.08],[113.95,25.5],[114,26.2],[113.77,27],[113.59,27.54],[113.9,28.02],[114.25,28.4],[114,28.86],[114,29.18]],
[[113.95,25.5],[112.98,24.95],[112.98,25.12],[112.08,25.2],[112,24.73],[111.47,24.64],[110.99,25.08],[111.47,25.87],[111.29,26.35],[110.57,26.35],[109.42,26.13],[109.54,26.75],[109.42,27.28],[109.24,27.54],[109.42,27.89],[109.36,28.77],[109.2,29.13]],
[[112,24.73],[111.83,24.1],[111.7,23.7],[111.1,22.7],[110.39,22.1],[109.9,21.48]],
[[109.42,26.13],[108.7,25.78],[107.9,25.7],[107.07,25.56],[107,25.34],[106.16,24.9],[105.6,24.95],[105,25]],
[[105,24.4],[106.16,24.1],[106.16,23.85],[105.56,23.32],[105,23.32]],
[[105.56,23.32],[106.64,22.93],[106.82,22.63],[106.64,22.35],[107.18,21.83],[107.5,21.74],[107.9,21.52]],
[[108.46,32.25],[107.47,32.45],[107.07,32.74],[106.08,32.84],[105.49,32.89]],
[[109.55,32.5],[108.46,32.25],[108.5,31.7],[108.06,31.26],[107.96,30.96],[107.52,30.86],[107.07,30.07],[106.68,30.02],[105.8,30.42],[105.59,30.17],[105.3,29.72],[105.35,29.27],[105.69,28.88],[106.24,28.79],[106.4,28.48],[106.73,28.79],[107.42,29.18],[108.26,29.08],[108.6,28.48],[109.2,29.13]],
[[105.69,28.88],[105.59,28.58],[106.28,28.04],[106.33,27.84],[105.69,27.69],[105,27.79]],
[[115.42,40.02],[115.77,40.22],[115.87,40.51],[116.61,41.06],[116.86,40.76],[117.5,40.68],[117.2,40.5],[117.25,40.17],[116.86,39.92],[116.91,39.72],[116.76,39.57],[116.12,39.52],[115.57,39.62],[115.42,40.02]],
[[117.25,40.17],[117.75,40.02],[117.55,39.77],[117.9,39.38],[117.6,38.88],[117.65,38.6],[117.15,38.63],[116.7,38.83],[116.81,39.52],[116.91,39.72]],
[[121.26,31.82],[121.1,31.65],[121.41,31.5],[121.95,31.43]]
];
// the short dash lines in the South China Sea
var dashLines = [[[121.9,21.7],[121.2,20.87]],[[120,19.04],[119.46,18.05]],[[122.78,24.6],[122.5,23.5]],[[110.33,12.24],[110.07,11.26]],[[118.97,11.98],[118.53,10.93]],[[109.3,16.05],[109.95,14.95]],[[119.05,16],[119.05,15.02]]];
// small reefs and rock islets
var islets = [[116.8,20.7],[113,19.5],[113.85,19.2],[120.9,20.4],[121,20.1],[121.9,20.5],[122.2,24.35],[122.4,29.3],[122.5,30.2],[122.8,30.4],[122.6,30.7],[122.2,30.3],[122.05,29.6],[122.1,29.9],[122.3,30],[122.15,30.1],[122,29.95],[121.95,29.4],[121.9,29.1],[121.75,28.9],[121.8,28.7],[121.85,28.4],[121.6,28.1],[121.2,28.1],[120.9,27.8],[120.85,27.5],[120.6,27.3],[120.5,26.95],[120.3,27],[120.1,26.6],[120.2,26.4],[119.95,26.3],[119.9,25.9],[119.8,25.6],[119.7,25.4],[119.4,25],[119,24.9],[118.5,24.4],[118.3,24.3],[117.7,23.6],[117.4,23.7],[116.5,22.8],[114.7,22.3],[114.2,22],[113.6,21.9],[113.3,21.9],[112.8,21.6],[112.5,21.6],[122.7,39.3],[122.9,39.2],[122.4,39.1],[122.6,38.95],[120.95,38.4],[120.85,38.15],[120.8,37.95],[125.2,37.65],[124.7,37.8],[126.2,34.1],[126.1,34.35],[126,34.55],[127.8,34.5],[128.3,34.7],[128.7,34.8],[129.9,32.6],[129.5,33.1],[130.4,32.4],[134.3,34.4],[139.7,33.1],[139.75,34.1],[139.4,34.7],[145.2,14.1],[145.7,15.1],[145.6,15.2],[145.1,14.95],[145.7,17.5],[145.8,18.1],[145.1,18.1],[144.75,13.4],[142.2,20.55],[132.3,36.9],[130.9,37.5],[129.9,37.5],[125.6,31],[111.8,16.5],[112.3,16.8],[112.6,16.6],[111.6,16.2],[112.3,16.1],[113.2,11.1],[113.7,10.6],[114.35,11.1],[114.2,10.6],[114.35,10.2],[114.5,9.9],[114.9,10.4],[115,10.8],[115.6,10.5],[115.8,9.8],[115.75,9.3],[115.9,9],[114.25,9.2],[114.3,8.9],[116.1,11],[116.45,9.9],[117.1,10.6],[117.25,10.5],[118,10.75],[117.5,9.55],[113.9,8.9],[113.1,8.8],[113.4,8.9]];

var width = 3371, height = 2693;
var plotLeft = 130, plotRight = 2942, plotTop = 143, plotBottom = 2618;
var svg = d3.select("#chart");
var xScale = d3.scaleLinear().domain([105.1, 153.55]).range([plotLeft, plotRight]);
var yScale = d3.scaleLinear().domain([8.73, 51.34]).range([plotBottom, plotTop]);
var mapLine = d3.line().x(function (d) { return xScale(d[0]); }).y(function (d) { return yScale(d[1]); });

svg.append("rect").attr("width", width).attr("height", height).attr("fill", "#fff");
svg.append("defs").append("clipPath").attr("id", "plotClip").append("rect")
	.attr("x", plotLeft).attr("y", plotTop).attr("width", plotRight - plotLeft).attr("height", plotBottom - plotTop);
var plot = svg.append("g").attr("clip-path", "url(#plotClip)");

// land fill first, grid over it
var allLand = [mainland].concat(islands);
plot.append("g").selectAll("path").data(allLand).enter().append("path")
	.attr("d", function (d) { return mapLine(d) + "Z"; })
	.attr("fill", "#e1e1e1").attr("stroke", "none");
plot.append("g").selectAll("path").data(waterPatches).enter().append("path")
	.attr("d", function (d) { return mapLine(d) + "Z"; }).attr("fill", "#fff");

var gridG = plot.append("g").attr("stroke", "#7a7a7a").attr("stroke-width", 1).attr("stroke-dasharray", "1.5 2");
gridG.selectAll(".gx").data(lonTicks).enter().append("line")
	.attr("x1", function (d) { return xScale(d); }).attr("x2", function (d) { return xScale(d); })
	.attr("y1", plotTop).attr("y2", plotBottom);
gridG.selectAll(".gy").data(latTicks).enter().append("line")
	.attr("y1", function (d) { return yScale(d); }).attr("y2", function (d) { return yScale(d); })
	.attr("x1", plotLeft).attr("x2", plotRight);

// member tracks, one path per coloured run
var trackG = plot.append("g").attr("fill", "none").attr("stroke-width", 4.8).attr("stroke-linejoin", "round");
memberTracks.forEach(function (runs) {
	var last = null;
	runs.forEach(function (run) {
		var pts = last ? [last] : [];
		for (var i = 1; i < run.length; i += 2) pts.push([run[i], run[i + 1]]);
		last = pts[pts.length - 1];
		trackG.append("path").attr("d", mapLine(pts)).attr("stroke", catColors[run[0]]);
	});
});

// ensemble mean
plot.append("path").attr("d", mapLine(meanTrack)).attr("fill", "none")
	.attr("stroke", "#000").attr("stroke-width", 12.5).attr("stroke-linejoin", "round");
plot.append("g").selectAll("rect").data(meanMarkers).enter().append("rect")
	.attr("x", function (d) { return xScale(d[0]) - 15; })
	.attr("y", function (d) { return yScale(d[1]) - 15; })
	.attr("width", 30).attr("height", 30).attr("fill", "#000");
var startX = xScale(meanTrack[0][0]), startY = yScale(meanTrack[0][1]);
plot.append("path").attr("d", "M" + (startX - 15) + "," + (startY - 15) + "L" + (startX + 15) + "," + (startY + 15) + "M" + (startX - 15) + "," + (startY + 15) + "L" + (startX + 15) + "," + (startY - 15))
	.attr("stroke", "#000").attr("stroke-width", 5.5);

plot.append("g").selectAll("text").data(meanLabels).enter().append("text")
	.attr("x", function (d, i) { return xScale(meanMarkers[i][0]) + 38; })
	.attr("y", function (d, i) { return yScale(meanMarkers[i][1]) - 1; })
	.attr("font-size", 50).attr("fill", "#000").text(function (d) { return d; });

// coast and province lines sit above the tracks
var lineG = plot.append("g").attr("fill", "none").attr("stroke", "#666").attr("stroke-linejoin", "round");
lineG.selectAll(".land").data(allLand).enter().append("path")
	.attr("d", function (d) { return mapLine(d) + "Z"; }).attr("stroke-width", 2.4);
lineG.selectAll(".water").data(waterPatches).enter().append("path")
	.attr("d", function (d) { return mapLine(d) + "Z"; }).attr("stroke-width", 2.4);
lineG.selectAll(".border").data(borders).enter().append("path")
	.attr("d", function (d) { return mapLine(d); }).attr("stroke-width", 3);
lineG.selectAll(".dash").data(dashLines).enter().append("path")
	.attr("d", function (d) { return mapLine(d); }).attr("stroke-width", 2.4);
plot.append("g").selectAll("circle").data(islets).enter().append("circle")
	.attr("cx", function (d) { return xScale(d[0]); }).attr("cy", function (d) { return yScale(d[1]); })
	.attr("r", 3).attr("fill", "#666");

// frame and tick labels
svg.append("rect").attr("x", plotLeft).attr("y", plotTop).attr("width", plotRight - plotLeft).attr("height", plotBottom - plotTop)
	.attr("fill", "none").attr("stroke", "#000").attr("stroke-width", 3.4);
svg.append("g").selectAll("text").data(latTicks).enter().append("text")
	.attr("x", 111).attr("y", function (d) { return yScale(d) + 12; })
	.attr("text-anchor", "end").attr("font-size", 33.3).text(function (d) { return d + "°N"; });
svg.append("g").selectAll("text").data(lonTicks).enter().append("text")
	.attr("x", function (d) { return xScale(d); }).attr("y", 2662)
	.attr("text-anchor", "middle").attr("font-size", 33.3).text(function (d) { return d + "°E"; });

// titles
svg.append("text").attr("x", 130).attr("y", 64).attr("font-size", 52.1)
	.text("WNC Ensemble Forecast [17W] Tropical Cyclone Track (Maximum 1-minute Sustained Wind Speed)");
svg.append("text").attr("x", 130).attr("y", 122).attr("font-size", 52.1).text("Initial time:2026-08-21-06Z");
svg.append("text").attr("x", 2924).attr("y", 119).attr("text-anchor", "end").attr("font-size", 38).text("[lon,lat]=[148.5,14.9]");

// member wind list on the right
var listG = svg.append("g");
listG.selectAll("text").data(memberWinds).enter().append("text")
	.attr("x", 2976).attr("y", function (d, i) { return 171 + i * 38.55; })
	.attr("font-size", 36)
	.attr("fill", function (d) { return d >= 137 ? catColors[C5] : catColors[C4]; })
	.text(function (d, i) { return "Member" + (i + 1) + ":" + d + "kt"; });
listG.append("text").attr("x", 2976).attr("y", 171 + 50 * 38.55).attr("font-size", 36)
	.attr("fill", catColors[C4]).text("Ens Mean:" + meanWind + "kt");

// legend
svg.append("rect").attr("x", 2975).attr("y", 2146).attr("width", 372).attr("height", 470).attr("rx", 5)
	.attr("fill", "#fff").attr("stroke", "#d5d5d5").attr("stroke-width", 3);
svg.append("g").selectAll("rect").data(catColors).enter().append("rect")
	.attr("x", 2988).attr("y", function (d, i) { return 2163 + i * 51.25; })
	.attr("width", 69).attr("height", 24).attr("fill", function (d) { return d; });
svg.append("g").selectAll("text").data(catNames).enter().append("text")
	.attr("x", 3086).attr("y", function (d, i) { return 2187 + i * 51.25; })
	.attr("font-size", 34.5).text(function (d) { return d; });

// source note and site name
svg.append("rect").attr("x", 172).attr("y", 2540).attr("width", 1915).attr("height", 48).attr("fill", "#fff").attr("fill-opacity", 0.72);
svg.append("text").attr("x", 181).attr("y", 2577).attr("font-size", 38.3).attr("fill", "#ff3033")
	.text("WeatherNext 2 Cyclones (WNC), powered by Google's latest AI cyclone forecasting model (FNv3.2)");
svg.append("text").attr("x", 2511).attr("y", 2570).attr("font-size", 41.5).attr("fill", "#000").text("www.smca.fun");

// weibo watermark
var mark = svg.append("g").attr("fill", "#fff").attr("fill-opacity", 0.8).attr("stroke", "#b5b5b5").attr("stroke-opacity", 0.85).attr("stroke-width", 3);
mark.append("ellipse").attr("cx", 1318).attr("cy", 2622).attr("rx", 54).attr("ry", 46).attr("transform", "rotate(-18 1318 2622)");
mark.append("ellipse").attr("cx", 1312).attr("cy", 2630).attr("rx", 28).attr("ry", 24).attr("fill", "none");
mark.append("circle").attr("cx", 1310).attr("cy", 2632).attr("r", 9).attr("fill", "#b5b5b5");
mark.append("path").attr("d", "M1340,2556 C1374,2550 1398,2574 1388,2612").attr("fill", "none").attr("stroke-width", 8);
mark.append("path").attr("d", "M1344,2580 C1360,2577 1372,2592 1366,2608").attr("fill", "none").attr("stroke-width", 6);
svg.append("text").attr("x", 1398).attr("y", 2642).attr("font-size", 86)
	.style("font-family", "'DejaVu Sans','Noto Sans CJK SC',sans-serif")
	.attr("fill", "#fff").attr("fill-opacity", 0.78).attr("stroke", "#b5b5b5").attr("stroke-opacity", 0.85).attr("stroke-width", 2)
	.text("@weather爱好者");
</script>
</body>
</html>
